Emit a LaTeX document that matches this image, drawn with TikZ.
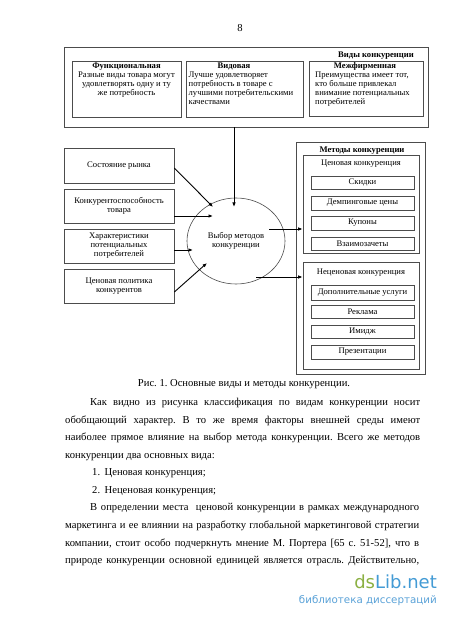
\documentclass[tikz,border=0pt]{standalone}
\usepackage{fontspec}
\setmainfont{Liberation Serif}
\newfontfamily\wmfont{DejaVu Sans}
\usetikzlibrary{arrows.meta,shapes.geometric}
\definecolor{wmgreen}{HTML}{8BB042}
\definecolor{wmblue}{HTML}{439BD5}
\definecolor{wmlight}{HTML}{5AA2D8}
\definecolor{framec}{gray}{0.3}
\frenchspacing
\begin{document}
\begin{tikzpicture}[x=1pt,y=-1pt,
  frame/.style={draw=framec, line width=0.7pt},
  dfont/.style={font=\fontsize{8.6}{9}\selectfont},
  dbold/.style={font=\fontsize{8.6}{9}\selectfont\bfseries},
  box/.style={frame, rectangle, inner sep=0pt},
  itembox/.style={box, minimum width=103pt, dfont},
  dtext/.style={dfont, inner sep=0pt},
  body/.style={font=\fontsize{10.6}{12}\selectfont, inner sep=0pt, anchor=base west},
  arr/.style={draw=black, line width=0.9pt, -{Latex[length=4.5pt,width=3.6pt]}},
  ]
\useasboundingbox (0,0) rectangle (450,620);
\fill[white] (0,0) rectangle (450,620);

% page number
\node[font=\fontsize{10.6}{12}\selectfont, inner sep=0pt, anchor=base] (pg) at (240,32) {8};

% ---- top block: kinds of competition
\node[box, minimum width=364pt, minimum height=80pt] (vk) at (246,87) {};
\node[dbold, inner sep=0pt, anchor=base east] (vkt) at (414,57.5) {Виды конкуренции};

\node[box, minimum width=109pt, minimum height=56pt] (b1) at (126.5,89) {};
\node[dbold, inner sep=0pt, anchor=base] (b1t) at (126.5,68.5) {Функциональная};
\node[dtext, align=center, anchor=north] (b1x) at (126.5,71.5)
  {Разные виды товара могут\\удовлетворять одну и ту\\же потребность};

\node[box, minimum width=117pt, minimum height=56pt] (b2) at (244.5,89) {};
\node[dbold, inner sep=0pt, anchor=base] (b2t) at (234,68.5) {Видовая};
\node[dtext, align=left, anchor=north west] (b2x) at (188.5,71.5)
  {Лучше удовлетворяет\\потребность в товаре с\\лучшими потребительскими\\качествами};

\node[box, minimum width=114pt, minimum height=55pt] (b3) at (366,88.5) {};
\node[dbold, inner sep=0pt, anchor=base] (b3t) at (365,68.5) {Межфирменная};
\node[dtext, align=left, anchor=north west] (b3x) at (315,71.5)
  {Преимущества имеет тот,\\кто больше привлекал\\внимание потенциальных\\потребителей};

% ---- left factors
\node[box, dfont, align=center, minimum width=110pt, minimum height=35pt] (s1) at (119,165.5) {Состояние рынка};
\node[box, dfont, align=center, minimum width=110pt, minimum height=34pt] (s2) at (119,206) {Конкурентоспособность\\товара};
\node[box, dfont, align=center, minimum width=110pt, minimum height=34pt] (s3) at (119,246) {Характеристики\\потенциальных\\потребителей};
\node[box, dfont, align=center, minimum width=110pt, minimum height=34pt] (s4) at (119,286) {Ценовая политика\\конкурентов};

% ---- ellipse
\node[ellipse, frame, line width=0.6pt, dfont, align=center, minimum width=98pt, minimum height=86pt, inner sep=0pt] (e) at (236,241) {Выбор методов\\конкуренции};

% ---- methods block
\node[box, minimum width=129pt, minimum height=232pt] (mk) at (360.5,258) {};
\node[dbold, inner sep=0pt, anchor=base] (mkt) at (362,152.5) {Методы конкуренции};

\node[box, minimum width=116pt, minimum height=98pt] (pr) at (361,204) {};
\node[dtext, anchor=base] (prt) at (361,165.5) {Ценовая конкуренция};
\node[itembox, minimum height=13pt] (i1) at (362.5,182.5) {Скидки};
\node[itembox, minimum height=14pt] (i2) at (362.5,203) {Демпинговые цены};
\node[itembox, minimum height=14pt] (i3) at (362.5,223) {Купоны};
\node[itembox, minimum height=13pt] (i4) at (362.5,243.5) {Взаимозачеты};

\node[box, minimum width=116pt, minimum height=107pt] (np) at (361,315.5) {};
\node[dtext, anchor=base] (npt) at (361,274.5) {Неценовая конкуренция};
\node[itembox, minimum height=15pt] (j1) at (362.5,292.5) {Дополнительные услуги};
\node[itembox, minimum height=13pt] (j2) at (362.5,311.5) {Реклама};
\node[itembox, minimum height=13pt] (j3) at (362.5,331.5) {Имидж};
\node[itembox, minimum height=14pt] (j4) at (362.5,352) {Презентации};

% ---- arrows
\coordinate (t0) at (234,207);
\coordinate (t1) at (213,207);
\coordinate (t2) at (213,216);
\coordinate (t3) at (193,250);
\coordinate (t4) at (207,263);
\coordinate (r1) at (269,229);
\coordinate (r2) at (256,277);
\draw[arr] (vk.south -| t0) -- (t0);
\draw[arr] ([yshift=-2.5pt]s1.east) -- (t1);
\draw[arr] (s2.east |- t2) -- (t2);
\draw[arr] (s3.east |- t3) -- (t3);
\draw[arr] ([yshift=-6pt]s4.east) -- (t4);
\draw[arr] (r1) -- (pr.west |- r1);
\draw[arr] (r2) -- (np.west |- r2);

% ---- caption and text
\node[font=\fontsize{10.6}{12}\selectfont, inner sep=0pt, anchor=base] (cap) at (244,386.6) {Рис. 1. Основные виды и методы конкуренции.};
\node[body] (p1) at (90,405.6) {\makebox[330pt][s]{Как видно из рисунка классификация по видам конкуренции носит}};
\node[body] (p2) at (65,423.2) {\makebox[355pt][s]{обобщающий характер. В то же время факторы внешней среды имеют}};
\node[body] (p3) at (65,440.7) {\makebox[355pt][s]{наиболее прямое влияние на выбор метода конкуренции. Всего же методов}};
\node[body] (p4) at (65,458.3) {конкуренции два основных вида:};
\node[body] (p5) at (92,475.8) {1.\hspace{4.5pt}Ценовая конкуренция;};
\node[body] (p6) at (92,493.4) {2.\hspace{4.5pt}Неценовая конкуренция;};
\node[body] (p7) at (90,510.9) {\makebox[329pt][s]{В определении места\ \ ценовой конкуренции в рамках международного}};
\node[body] (p8) at (65,528.5) {\makebox[354pt][s]{маркетинга и ее влиянии на разработку глобальной маркетинговой стратегии}};
\node[body] (p9) at (65,546) {\makebox[354pt][s]{компании, стоит особо подчеркнуть мнение М. Портера [65 с. 51-52], что в}};
\node[body] (p10) at (65,563.6) {\makebox[354pt][s]{природе конкуренции основной единицей является отрасль. Действительно,}};

% ---- watermark
\node[font=\wmfont\fontsize{18}{20}\selectfont, inner sep=0pt, anchor=base east] (wm1) at (437,588) {\textcolor{wmgreen}{ds}\textcolor{wmblue}{Lib.net}};
\node[font=\wmfont\fontsize{10.3}{12}\selectfont, text=wmlight, inner sep=0pt, anchor=base east] (wm2) at (437,603.5) {библиотека диссертаций};
\end{tikzpicture}
\end{document}
